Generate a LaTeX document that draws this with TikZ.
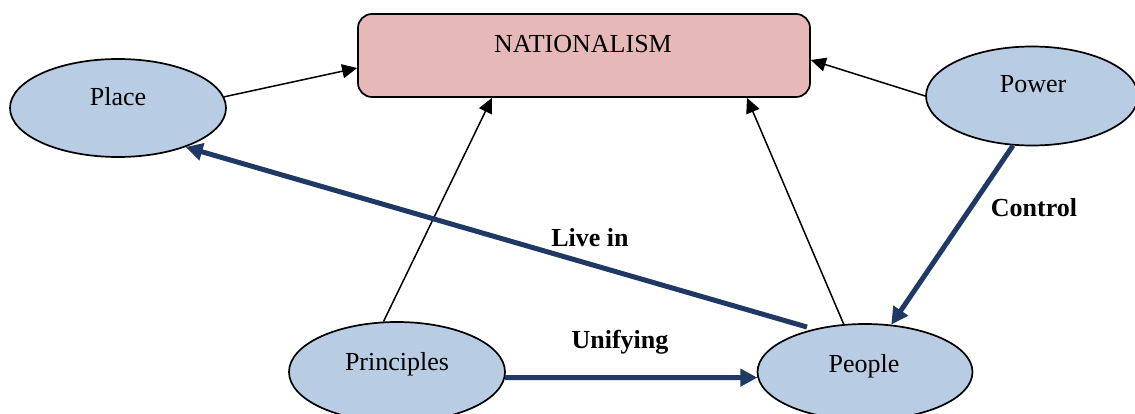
\documentclass[tikz,border=0pt]{standalone}
\usepackage{fontspec}
\setmainfont{Liberation Serif}
\usetikzlibrary{shapes.geometric,arrows.meta}
\definecolor{ellfill}{HTML}{B8CCE4}
\definecolor{boxfill}{HTML}{E6B8B7}
\definecolor{darkblue}{HTML}{1F3864}
\begin{document}
\begin{tikzpicture}[x=1pt,y=-1pt,
  ell/.style={ellipse, draw=black, line width=1.7pt, fill=ellfill, inner sep=0pt},
  nbox/.style={rectangle, rounded corners=14pt, draw=black, line width=1.7pt, fill=boxfill, minimum width=452pt, minimum height=83pt, inner sep=0pt},
  txt/.style={font=\fontsize{26}{30}\selectfont, anchor=base, inner sep=0pt},
  lbl/.style={font=\fontsize{26}{30}\selectfont\bfseries, anchor=base, inner sep=0pt},
  blackarrow/.style={draw=black, line width=1.5pt, -{Triangle[length=15pt,width=14pt]}},
  bluearrow/.style={draw=darkblue, line width=5pt, -{Triangle[length=17pt,width=17pt]}}]
\clip (0,0) rectangle (1135,414);
\fill[white] (0,0) rectangle (1135,414);

% nodes
\node[nbox] (nat) at (584,55.5) {};
\node[txt] (nattxt) at (583,53) {NATIONALISM};
\node[ell, minimum width=216pt, minimum height=98pt] (pl) at (118,108) {};
\node[txt] (pltxt) at (118,106) {Place};
\node[ell, minimum width=212pt, minimum height=99pt] (pw) at (1032,96) {};
\node[txt] (pwtxt) at (1033,93) {Power};
\node[ell, minimum width=216pt, minimum height=100pt] (pr) at (397,372) {};
\node[txt] (prtxt) at (397,370) {Principles};
\node[ell, minimum width=215pt, minimum height=96pt] (pe) at (865,372) {};
\node[txt] (petxt) at (864,372) {People};

% black arrows
\draw[blackarrow] (pl.6) -- ([yshift=-12.5pt]nat.west);
\draw[blackarrow] (pw.west) -- ([yshift=-4.5pt]nat.east);
\draw[blackarrow] (pr.105) -- ([xshift=-92pt]nat.south);
\draw[blackarrow] (pe.114) -- ([xshift=163pt]nat.south);

% blue arrows
\draw[bluearrow, shorten <=7pt] (pe.140) -- (pl.-30);
\draw[bluearrow] (pw.-111) -- (pe.61);
\draw[bluearrow] (pr.-3) -- (pe.183);

% labels
\node[lbl] (livein) at (590,247) {Live in};
\node[lbl] (control) at (1034,217) {Control};
\node[lbl] (unifying) at (620,348) {Unifying};
\end{tikzpicture}
\end{document}
